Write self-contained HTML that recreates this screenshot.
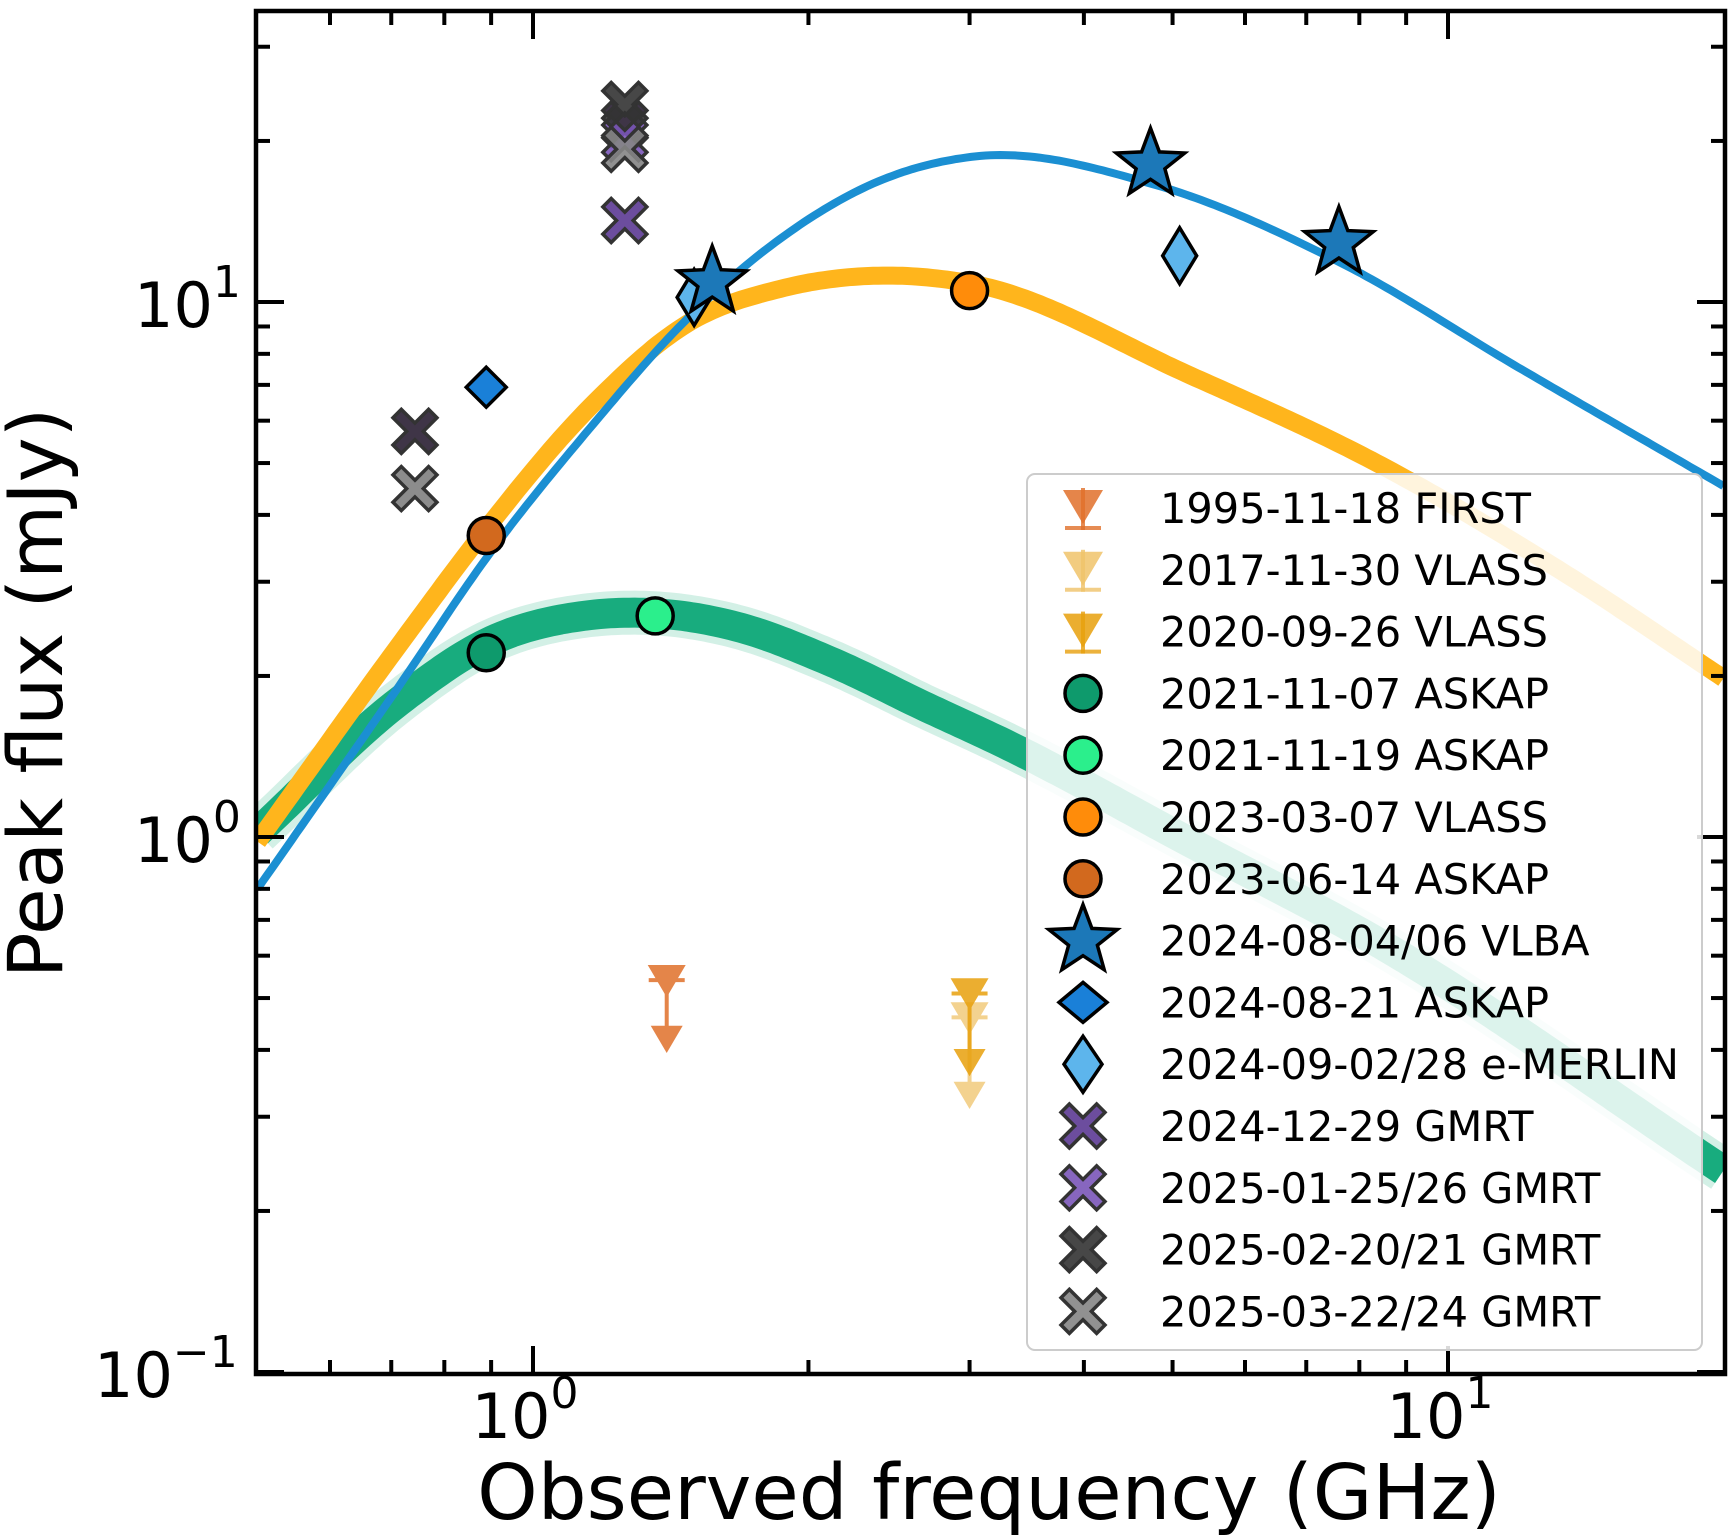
<!DOCTYPE html>
<html><head><meta charset="utf-8"><style>
body{margin:0;background:#fff}
svg{display:block;font-family:"DejaVu Sans","Liberation Sans",sans-serif}
</style></head><body>
<svg id="chart" width="1733" height="1538" viewBox="0 0 1733 1538" xmlns="http://www.w3.org/2000/svg">
<g id="curves"></g>
<g id="marks"></g>
<g id="axes"></g>
<g id="legend"></g>
<text x="989" y="1519" font-size="77" text-anchor="middle">Observed frequency (GHz)</text>
<text transform="translate(62,693) rotate(-90)" font-size="76" text-anchor="middle">Peak flux (mJy)</text>
</svg>
<script>
// model curve samples (GHz, mJy)
const blueFreq=[0.5,0.716,0.888,1.157,1.473,1.871,2.383,3.034,4.76,7.66,11.96,20];
const blueFlux=[0.80,1.93,3.31,5.84,9.29,13.2,16.8,18.7,16.6,11.8,7.53,4.53];
const orangeFreq=[0.5,0.716,0.888,1.157,1.473,1.871,2.383,3.034,5.21,8.36,13.46,20];
const orangeFlux=[0.98,2.30,3.76,6.39,9.10,10.6,11.2,10.8,7.31,5.0,3.10,1.98];
const greenFreq=[0.5,0.716,0.888,1.157,1.353,1.659,2.112,2.688,3.289,5.21,8.36,20];
const greenFlux=[1.02,1.80,2.30,2.60,2.62,2.48,2.13,1.75,1.49,0.98,0.637,0.238];
// observations
const limFreq=[1.4,3.0,3.0];
const limFlux=[0.54,0.46,0.51];
const limArrow=[0.42,0.33,0.38];
const circFreq=[0.889,1.36,3.0,0.889];
const circFlux=[2.21,2.59,10.5,3.66];
const starFreq=[1.57,4.73,7.6];
const starFlux=[10.9,18.1,12.9];
const diaFreq=[0.889,1.5,5.09];
const diaFlux=[6.93,10.2,12.2];
const crossFreq=[1.26,1.26,0.743,1.26,1.26,0.743,1.26];
const crossFlux=[14.2,21.5,5.73,20.2,23.4,4.48,19.3];
const legendLabels=["1995-11-18 FIRST","2017-11-30 VLASS","2020-09-26 VLASS","2021-11-07 ASKAP","2021-11-19 ASKAP","2023-03-07 VLASS","2023-06-14 ASKAP","2024-08-04/06 VLBA","2024-08-21 ASKAP","2024-09-02/28 e-MERLIN","2024-12-29 GMRT","2025-01-25/26 GMRT","2025-02-20/21 GMRT","2025-03-22/24 GMRT"];

const NS="http://www.w3.org/2000/svg";
const X=f=>533+915*Math.log10(f);
const Y=s=>837-535*Math.log10(s);
const L=256,R=1725,T=11,B=1374;
function mk(tag,attrs,parent){const e=document.createElementNS(NS,tag);for(const k in attrs)e.setAttribute(k,attrs[k]);parent.appendChild(e);return e;}
// monotone-friendly cubic (Fritsch-Carlson style tangents) in log-log space
function smooth(fs,ss){
 const x=fs.map(Math.log10),y=ss.map(Math.log10),n=x.length;
 const dl=[];for(let i=0;i<n-1;i++)dl.push((y[i+1]-y[i])/(x[i+1]-x[i]));
 const m=[dl[0]];for(let i=1;i<n-1;i++){const w1=x[i+1]-x[i],w0=x[i]-x[i-1];m.push((dl[i-1]*w1+dl[i]*w0)/(w0+w1));}m.push(dl[n-2]);
 let p=[];for(let k=0;k<=300;k++){const xv=x[0]+(x[n-1]-x[0])*k/300;let j=0;while(j<n-2&&xv>x[j+1])j++;
  const h=x[j+1]-x[j],t=(xv-x[j])/h,t2=t*t,t3=t2*t;
  const yv=(2*t3-3*t2+1)*y[j]+(t3-2*t2+t)*h*m[j]+(-2*t3+3*t2)*y[j+1]+(t3-t2)*h*m[j+1];
  p.push(X(10**xv).toFixed(1)+','+Y(10**yv).toFixed(1));}
 return 'M'+p.join(' L');}
const defs=mk('defs',{},document.getElementById('chart'));
const cp=mk('clipPath',{id:'clip'},defs);mk('rect',{x:L,y:T,width:R-L,height:B-T},cp);
const cg=document.getElementById('curves');cg.setAttribute('clip-path','url(#clip)');
let e;
const gpath=smooth(greenFreq,greenFlux);
e=mk('path',{d:gpath,fill:'none',stroke:'#d3f0e6','stroke-width':44},cg);

e=mk('path',{d:gpath,fill:'none',stroke:'#0ea878','stroke-width':30,opacity:0.95},cg);

e=mk('path',{d:smooth(orangeFreq,orangeFlux),fill:'none',stroke:'#ffb51c','stroke-width':18},cg);

e=mk('path',{d:smooth(blueFreq,blueFlux),fill:'none',stroke:'#1b8fd2','stroke-width':8},cg);


function star(cx,cy,r){let pts=[];for(let i=0;i<10;i++){const a=-Math.PI/2+i*Math.PI/5,rr=i%2?r*0.42:r;pts.push((cx+rr*Math.cos(a)).toFixed(1)+','+(cy+rr*Math.sin(a)).toFixed(1));}return pts.join(' ');}
function cross(cx,cy,s){const w=s*0.38;const p=[[0,-w],[s-w,-s],[s,-s+w],[w,0],[s,s-w],[s-w,s],[0,w],[-s+w,s],[-s,s-w],[-w,0],[-s,-s+w],[-s+w,-s]];return p.map(q=>(cx+q[0])+','+(cy+q[1])).join(' ');}
function tri(cx,cy,s){return `${cx-s},${cy-s*0.8} ${cx+s},${cy-s*0.8} ${cx},${cy+s*0.9}`;}
function dia(cx,cy,w,h){return `${cx},${cy-h} ${cx+w},${cy} ${cx},${cy+h} ${cx-w},${cy}`;}

const mg=document.getElementById('marks');
const limCol=['#e0702a','#f0c36a','#e8a00c'];const limNm=['first-1995','vlass-2017','vlass-2020'];
limFreq.forEach((f,i)=>{const g=mk('g',{opacity:i==1?0.75:0.85},mg);
 
 const x=X(f),y=Y(limFlux[i]),ya=Y(limArrow[i]);
 mk('line',{x1:x,y1:y,x2:x,y2:ya,stroke:limCol[i],'stroke-width':4},g);
 mk('line',{x1:x-18,y1:y,x2:x+18,y2:y,stroke:limCol[i],'stroke-width':4},g);
 mk('polygon',{points:tri(x,ya,16),fill:limCol[i]},g);
 mk('polygon',{points:tri(x,y,19),fill:limCol[i]},g);});
const crossCol=['#5c3a94','#2a1f33','#2a1f33','#7a55b8','#333333','#808080','#858585'];
crossFreq.forEach((f,i)=>{e=mk('polygon',{points:cross(X(f),Y(crossFlux[i]),22),fill:crossCol[i],stroke:'#333','stroke-width':3.5,'fill-opacity':0.9},mg);
 });
const circCol=['#0e9a6c','#2bef8c','#ff8c0a','#d2691e'];
circFreq.forEach((f,i)=>{e=mk('circle',{cx:X(f),cy:Y(circFlux[i]),r:18,fill:circCol[i],stroke:'#000','stroke-width':3.5},mg);
 });
const diaCol=['#1a80d8','#5db5ec','#5db5ec'];
diaFreq.forEach((f,i)=>{const w=i==0?20:17,h=i==0?20:28;e=mk('polygon',{points:dia(X(f),Y(diaFlux[i]),w,h),fill:diaCol[i],stroke:'#000','stroke-width':3.5},mg);
 });
starFreq.forEach((f,i)=>{e=mk('polygon',{points:star(X(f),Y(starFlux[i]),36),fill:'#1c78b8',stroke:'#000','stroke-width':3.5,'stroke-linejoin':'miter'},mg);
 });

// axes
const ag=document.getElementById('axes');
e=mk('rect',{x:L,y:T,width:R-L,height:B-T,fill:'none',stroke:'#000','stroke-width':4.5},ag);

const xMajor=[1,10];const xMinor=[0.5,0.6,0.7,0.8,0.9,2,3,4,5,6,7,8,9,20];
const yMajor=[0.1,1,10];const yMinor=[0.2,0.3,0.4,0.5,0.6,0.7,0.8,0.9,2,3,4,5,6,7,8,9,20,30];
function tick(x1,y1,x2,y2,nm){const t=mk('line',{x1,y1,x2,y2,stroke:'#000','stroke-width':4},ag);}
xMajor.forEach(f=>{const x=X(f);tick(x,B,x,B-28,'x-major-tick');tick(x,T,x,T+28,'x-major-tick');});
xMinor.forEach(f=>{const x=X(f);if(x<=L+2||x>=R-2)return;tick(x,B,x,B-14,'x-minor-tick');tick(x,T,x,T+14,'x-minor-tick');});
yMajor.forEach(s=>{const y=Y(s);tick(L,y,L+28,y,'y-major-tick');tick(R,y,R-28,y,'y-major-tick');});
yMinor.forEach(s=>{const y=Y(s);if(y<=T+2||y>=B-2)return;tick(L,y,L+14,y,'y-minor-tick');tick(R,y,R-14,y,'y-minor-tick');});
const xLab=[['1','0'],['10','1']];
xMajor.forEach((f,i)=>{const t=mk('text',{x:X(f)-8,y:1438,'font-size':62,'text-anchor':'middle'},ag);t.textContent='10';
 const s=mk('tspan',{dy:-30,'font-size':44},t);s.textContent=xLab[i][1];
 });
const yExp=['−1','0','1'];
yMajor.forEach((v,i)=>{const t=mk('text',{x:i==0?94:134,y:Y(v)+25,'font-size':62},ag);t.textContent='10';
 const s=mk('tspan',{dy:-30,'font-size':44},t);s.textContent=yExp[i];
 });

// legend
const lg=document.getElementById('legend');
e=mk('rect',{x:1027,y:474,width:675,height:876,rx:8,fill:'#fff','fill-opacity':0.85,stroke:'#ccc','stroke-width':2},lg);

legendLabels.forEach((lab,i)=>{const cy=508+i*61.8,cx=1083;const g=mk('g',{},lg);
 
 if(i<3){const c=[limCol[0],limCol[1],limCol[2]][i];mk('line',{x1:cx,y1:cy-20,x2:cx,y2:cy+22,stroke:c,'stroke-width':4,opacity:0.8},g);mk('line',{x1:cx-18,y1:cy+20,x2:cx+18,y2:cy+20,stroke:c,'stroke-width':4,opacity:0.8},g);mk('polygon',{points:tri(cx,cy-2,20),fill:c,opacity:0.85},g);}
 else if(i<7){mk('circle',{cx,cy,r:18,fill:circCol[i-3],stroke:'#000','stroke-width':3.5},g);}
 else if(i==7){mk('polygon',{points:star(cx,cy,36),fill:'#1c78b8',stroke:'#000','stroke-width':3.5},g);}
 else if(i==8){mk('polygon',{points:dia(cx,cy,24,20),fill:'#1a80d8',stroke:'#000','stroke-width':3.5},g);}
 else if(i==9){mk('polygon',{points:dia(cx,cy,19,28),fill:'#5db5ec',stroke:'#000','stroke-width':3.5},g);}
 else{const c=['#5c3a94','#7a55b8','#333333','#858585'][i-10];mk('polygon',{points:cross(cx,cy,22),fill:c,stroke:'#333','stroke-width':3.5,'fill-opacity':0.9},g);}
 const t=mk('text',{x:1160,y:cy+15,'font-size':41.5},g);t.textContent=lab;});
</script>
</body></html>
